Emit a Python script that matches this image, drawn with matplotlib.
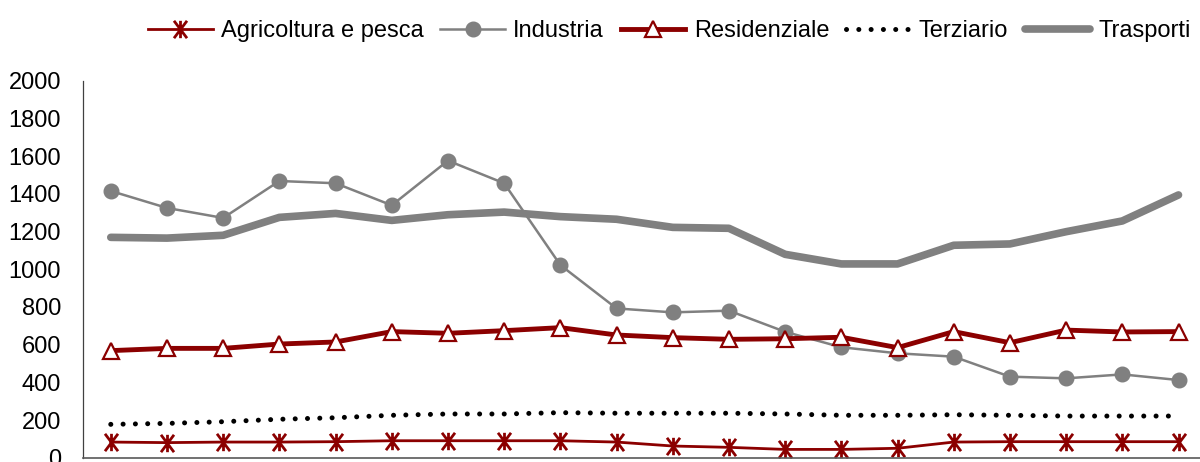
import numpy as np
import matplotlib
matplotlib.use("Agg")
import matplotlib.pyplot as plt
from matplotlib.path import Path

plt.rcParams["font.family"] = ["Liberation Sans", "DejaVu Sans"]

# Consumi per settore (20 anni)
anni = list(range(20))
agricoltura = [83, 80, 83, 83, 85, 90, 90, 90, 90, 83, 62, 55, 44, 44, 50, 83, 85, 85, 85, 85]
industria = [1415, 1325, 1272, 1468, 1456, 1339, 1576, 1456, 1022, 792,
             771, 780, 668, 586, 554, 536, 430, 421, 442, 412]
residenziale = [568, 580, 580, 603, 614, 669, 660, 674, 690, 651,
                637, 628, 631, 639, 584, 669, 610, 677, 667, 669]
terziario = [177, 182, 191, 204, 212, 225, 232, 232, 239, 236,
             236, 236, 232, 225, 225, 228, 225, 221, 221, 221]
trasporti = [1169, 1165, 1180, 1275, 1296, 1259, 1289, 1303, 1279, 1265,
             1222, 1217, 1079, 1028, 1028, 1127, 1134, 1199, 1256, 1394]

ROSSO = "#8B0000"
GRIGIO = "#808080"

# asterisco stile Excel: barra verticale + X
asterisco = Path(
    [(0, -1), (0, 1), (-0.75, -1), (0.75, 1), (-0.75, 1), (0.75, -1)],
    [Path.MOVETO, Path.LINETO, Path.MOVETO, Path.LINETO, Path.MOVETO, Path.LINETO],
)

fig = plt.figure(figsize=(12, 4.62), dpi=100)
ax = fig.add_axes([0.0689, 0.0093, 0.9366, 0.816])

ax.plot(anni, agricoltura, color=ROSSO, lw=2, marker=asterisco, markersize=12.5,
        markerfacecolor="none", markeredgecolor=ROSSO, markeredgewidth=2,
        label="Agricoltura e pesca")
ax.plot(anni, industria, color=GRIGIO, lw=1.8, marker="o", markersize=10.5,
        markerfacecolor=GRIGIO, markeredgecolor=GRIGIO, label="Industria")
ax.plot(anni, residenziale, color=ROSSO, lw=3.5, marker="^", markersize=11,
        markerfacecolor="white", markeredgecolor=ROSSO, markeredgewidth=1.6,
        label="Residenziale")
ax.plot(anni, terziario, color="black", lw=3.6, linestyle=(0, (0.01, 2.45)),
        dash_capstyle="round", label="Terziario")
ax.plot(anni, trasporti, color=GRIGIO, lw=5.5, solid_capstyle="round",
        solid_joinstyle="round", label="Trasporti")

ax.set_xlim(-0.5, 19.5)
ax.set_ylim(0, 2000)
ax.set_yticks(range(0, 2001, 200))
ax.set_xticks([])
ax.tick_params(axis="y", length=0, pad=15.5, labelsize=17)

ax.spines["top"].set_visible(False)
ax.spines["right"].set_visible(False)
ax.spines["left"].set_color("#404040")
ax.spines["left"].set_linewidth(0.9)
ax.spines["bottom"].set_color("#595959")
ax.spines["bottom"].set_linewidth(1.2)

fig.legend(loc="center", bbox_to_anchor=(669 / 1200, 1 - 31 / 462), ncol=5,
           frameon=False, fontsize=17, handlelength=2.75, handletextpad=0.35,
           columnspacing=0.7, borderaxespad=0)

fig.savefig("out.png", dpi=100)
